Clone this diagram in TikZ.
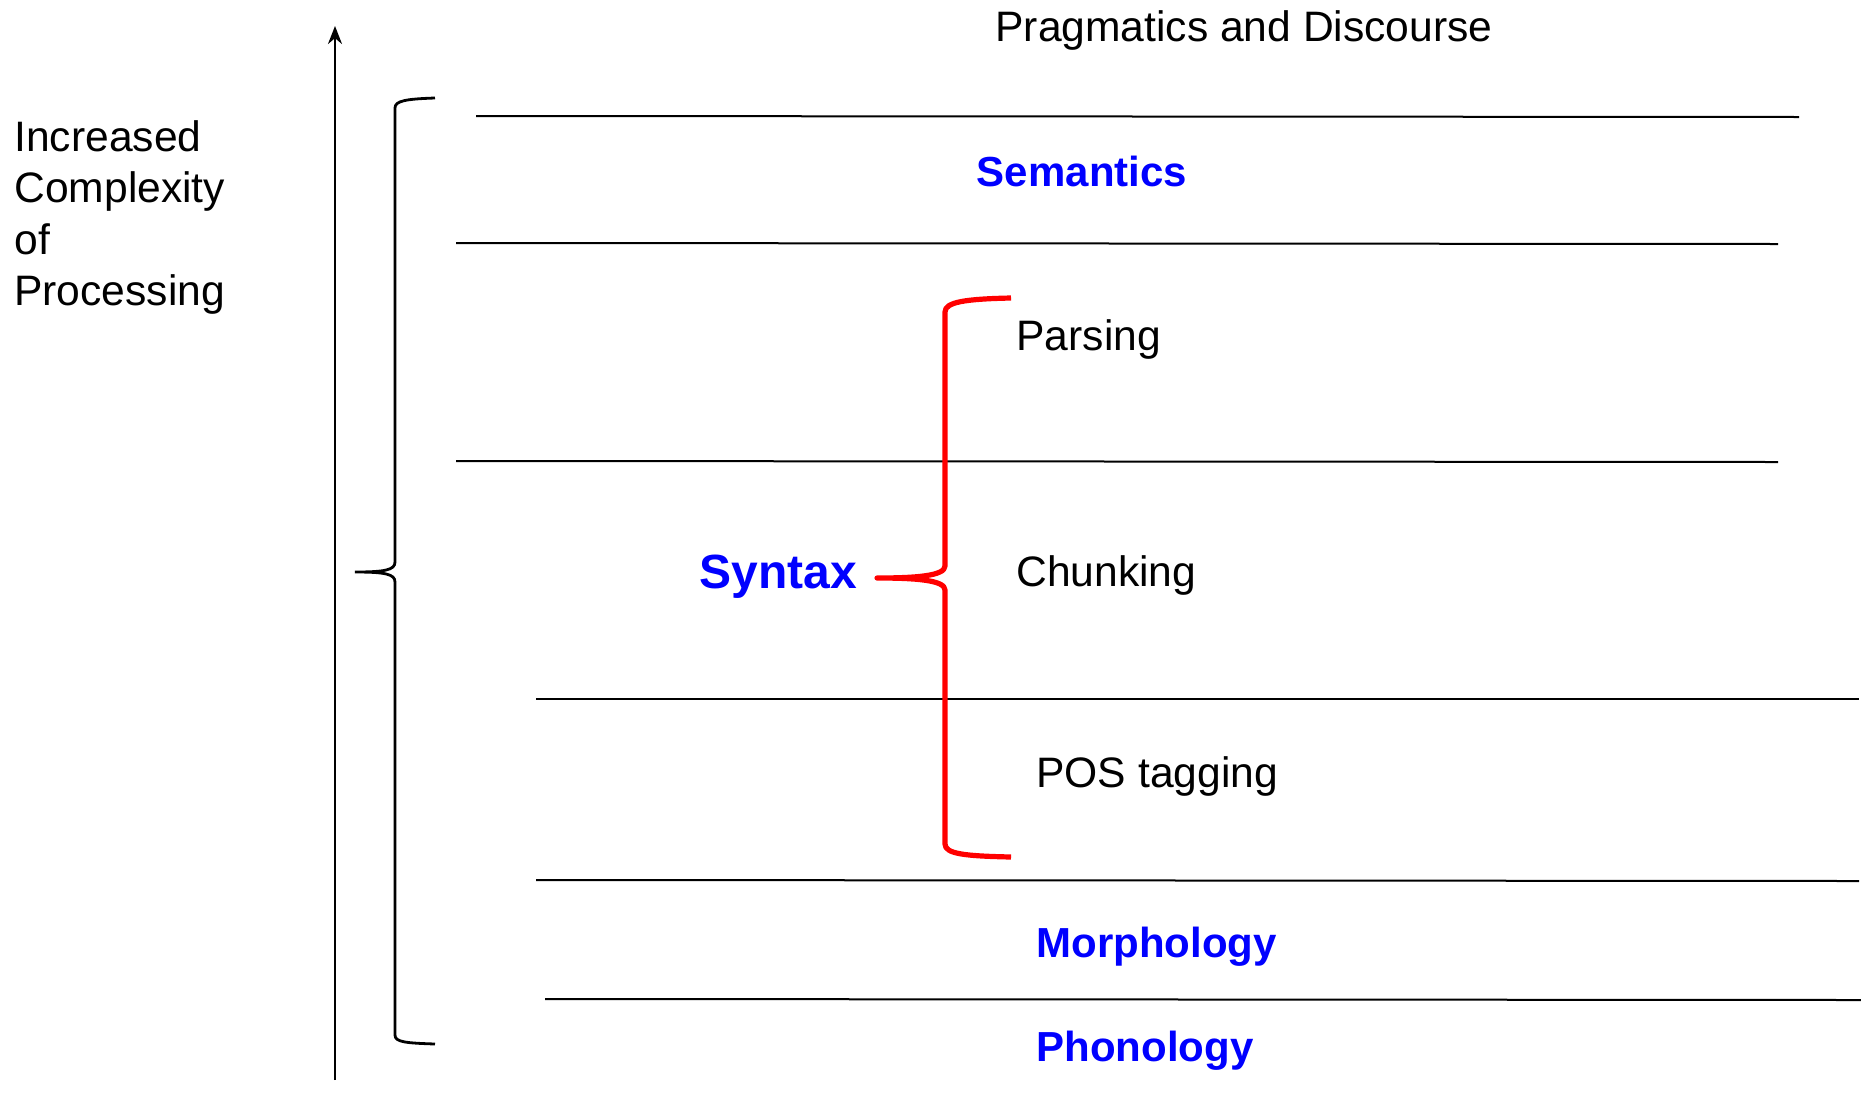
\documentclass[tikz,border=0pt]{standalone}
\usepackage{fontspec}
\setmainfont{Liberation Sans}
\usetikzlibrary{arrows.meta}
\definecolor{levelblue}{RGB}{0,0,255}
\definecolor{bracered}{RGB}{255,0,0}
\begin{document}
\begin{tikzpicture}[x=0.5pt,y=-0.5pt,
  plain/.style={inner sep=0pt,font=\fontsize{21.3}{25.7}\selectfont},
  level/.style={inner sep=0pt,font=\fontsize{21}{25.5}\selectfont\bfseries,text=levelblue},
  sep/.style={line width=1pt},
  bracket/.style={line width=1.4pt},
  redbracket/.style={line width=2.6pt,draw=bracered,line join=round}]
\useasboundingbox[fill=white] (0,0) rectangle (1861,1098);

% axis of processing complexity
\coordinate (axbot) at (335,1080);
\coordinate (axtop) at (335,26);
\draw[line width=1.2pt,-{Stealth[length=9pt,width=7pt]}] (axbot) -- (axtop);
\node[plain,anchor=north west,align=left] (incr) at (14,120)
  {Increased\\Complexity\\of\\Processing};

% separator lines between levels
\coordinate (s1a) at (476,116);  \coordinate (s1b) at (1799,117);
\coordinate (s2a) at (456,243);  \coordinate (s2b) at (1778,244);
\coordinate (s3a) at (456,461);  \coordinate (s3b) at (1778,462);
\coordinate (s4a) at (536,699);  \coordinate (s4b) at (1859,699);
\coordinate (s5a) at (536,880);  \coordinate (s5b) at (1859,881);
\coordinate (s6a) at (545,999);  \coordinate (s6b) at (1861,1000);
\foreach \i in {1,...,6} \draw[sep] (s\i a) -- (s\i b);

% level labels
\node[plain,anchor=base] (prag) at (1244,41) {Pragmatics and Discourse};
\node[level,anchor=base] (sem) at (1082,186) {Semantics};
\node[plain,anchor=base west] (pars) at (1016,350) {Parsing};
\node[plain,anchor=base west] (chunk) at (1016,586) {Chunking};
\node[plain,anchor=base west] (pos) at (1036,787) {POS tagging};
\node[level,anchor=base west] (morph) at (1036,957) {Morphology};
\node[level,anchor=base west] (phon) at (1036,1061) {Phonology};
\node[level,anchor=base,font=\fontsize{24}{28}\selectfont\bfseries] (syn) at (778,588) {Syntax};

% large black brace spanning all levels
\coordinate (bbtop) at (435,98);
\coordinate (bbtip) at (355,572);
\coordinate (bbbot) at (435,1044);
\draw[bracket] (bbtop) .. controls (405,99) and (395,101) .. (395,108)
  -- (395,562) .. controls (395,570) and (385,572) .. (bbtip)
  .. controls (385,572) and (395,574) .. (395,582)
  -- (395,1035) .. controls (395,1042) and (405,1043) .. (bbbot);

% red brace grouping the syntax sub-levels
\coordinate (rbtop) at (1011,298);
\coordinate (rbtip) at (877,578);
\coordinate (rbbot) at (1011,857);
\draw[redbracket] (rbtop) .. controls (965,299) and (945,302) .. (945,312)
  -- (945,566) .. controls (945,576) and (915,578) .. (rbtip)
  .. controls (915,578) and (945,580) .. (945,590)
  -- (945,844) .. controls (945,854) and (965,856) .. (rbbot);
\end{tikzpicture}
\end{document}
